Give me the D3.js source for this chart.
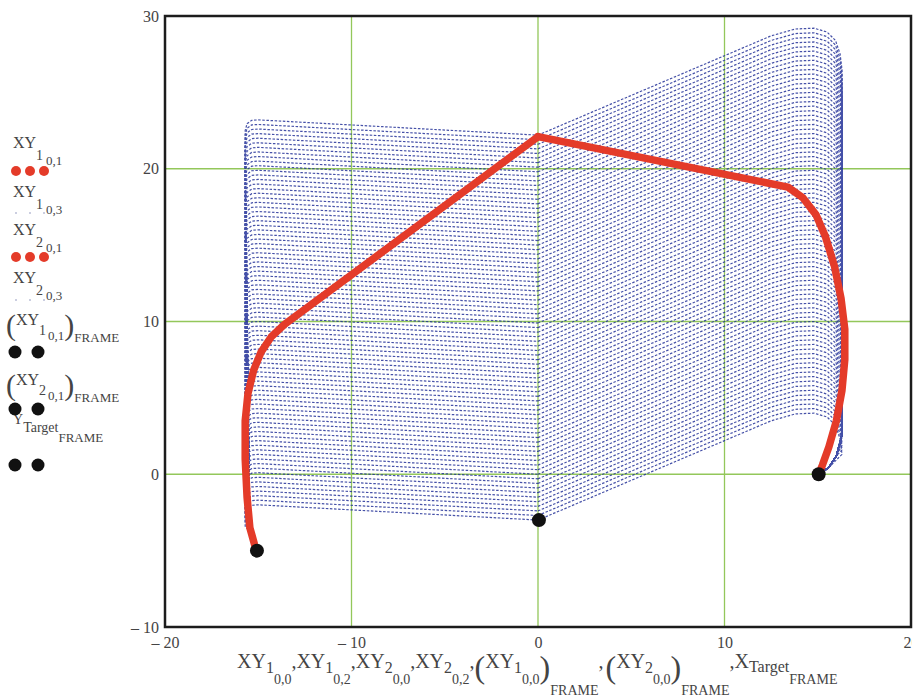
<!DOCTYPE html>
<html>
<head>
<meta charset="utf-8">
<script src="https://cdn.jsdelivr.net/npm/d3@7"></script>
<style>
    html, body { margin: 0; padding: 0; background: #fff; }
    svg { display: block; }
</style>
</head>
<body>
<div id="chart"></div>
<script>
// ==========================================================================
// DADOS
// ==========================================================================

const xTicks = [-20, -10, 0, 10, 20];
const yTicks = [-10, 0, 10, 20, 30];
const gridX = [-10, 0, 10];
const gridY = [0, 10, 20];

// XY1 (primeiro trecho, vermelho)
const xy1X = [-15.07, -15.2, -15.45, -15.6, -15.7, -15.7, -15.55, -15.25, -14.85, -14.3, -13.6, 0];
const xy1Y = [-5.0, -4.6, -3.5, -1.5, 1.0, 3.5, 5.3, 6.8, 8.0, 9.0, 9.8, 22.1];

// XY2 (segundo trecho, vermelho)
const xy2X = [0, 13.4, 14.2, 14.9, 15.4, 15.9, 16.25, 16.45, 16.45, 16.3, 16.0, 15.6, 15.25, 15.05];
const xy2Y = [22.1, 18.8, 18.1, 17.0, 15.6, 13.6, 11.5, 9.5, 7.5, 5.5, 3.5, 1.8, 0.6, 0.0];

// pontos FRAME (preto)
const frameX = [-15.07, 0.05, 15.05];
const frameY = [-5.0, -3.0, 0.0];

// malha azul: altura de cada linha em x = 0
const meshRows = [
    -3.0, -2.7, -2.4, -2.1, -1.8, -1.5, -1.2, -0.9, -0.6, -0.3,
    0.0, 0.3, 0.6, 0.9, 1.2, 1.5, 1.8, 2.1, 2.4, 2.7,
    3.0, 3.3, 3.6, 3.9, 4.2, 4.5, 4.8, 5.1, 5.4, 5.7,
    6.0, 6.3, 6.6, 6.9, 7.2, 7.5, 7.8, 8.1, 8.4, 8.7,
    9.0, 9.3, 9.6, 9.9, 10.2, 10.5, 10.8, 11.1, 11.4, 11.7,
    12.0, 12.3, 12.6, 12.9, 13.2, 13.5, 13.8, 14.1, 14.4, 14.7,
    15.0, 15.3, 15.6, 15.9, 16.2, 16.5, 16.8, 17.1, 17.4, 17.7,
    18.0, 18.3, 18.6, 18.9, 19.2, 19.5, 19.8, 20.1, 20.4, 20.7,
    21.0, 21.3, 21.6, 21.9, 22.2
];

// perfil esquerdo (XY1_{0,2}, XY1_{0,3}): início fixo + pontos relativos à linha
const meshLeftStartX = [-15.15, -15.45];
const meshLeftStartY = [-4.6, -3.8];
const meshLeftX = [-15.7, -15.7, -15.6, -15.35, -15.0, 0];
const meshLeftDy = [-0.4, 0.3, 0.75, 0.97, 1.0, 0];

// perfil direito (XY2_{0,2}, XY2_{0,3}): pontos relativos + final fixo
const meshRightX = [0, 10, 12.5, 13.8, 14.8, 15.5, 15.95, 16.2, 16.3];
const meshRightDy = [0, 5.2, 6.5, 6.95, 7.0, 6.75, 6.2, 5.3, 4.3];
const meshRightEndX = [16.3, 16.0, 15.6, 15.1];
const meshRightEndY = [2.6, 1.2, 0.45, 0.02];

// ==========================================================================
// CONFIGURAÇÕES
// ==========================================================================

const CONFIG = {
    width: 918,
    height: 698,
    plot: { left: 165, right: 911, top: 16, bottom: 627 },
    font: '"Liberation Serif", "Times New Roman", serif',
    colors: {
        grid: '#93c75a',
        mesh: '#1e2c96',
        red: '#e43b29',
        black: '#111',
        frame: '#1c1c1c',
        text: '#444'
    }
};

const svg = d3.select('#chart')
    .append('svg')
    .attr('width', CONFIG.width)
    .attr('height', CONFIG.height)
    .attr('font-family', CONFIG.font);

const x = d3.scaleLinear().domain([-20, 20]).range([CONFIG.plot.left, CONFIG.plot.right]);
const y = d3.scaleLinear().domain([-10, 30]).range([CONFIG.plot.bottom, CONFIG.plot.top]);

const line = d3.line().x(d => x(d[0])).y(d => y(d[1]));

// ==========================================================================
// GRADE
// ==========================================================================

svg.append('g').selectAll('line.gx')
    .data(gridX)
    .enter().append('line')
    .attr('x1', d => x(d)).attr('x2', d => x(d))
    .attr('y1', y(-10)).attr('y2', y(30))
    .attr('stroke', CONFIG.colors.grid)
    .attr('stroke-width', 1.3);

svg.append('g').selectAll('line.gy')
    .data(gridY)
    .enter().append('line')
    .attr('x1', x(-20)).attr('x2', x(20))
    .attr('y1', d => y(d)).attr('y2', d => y(d))
    .attr('stroke', CONFIG.colors.grid)
    .attr('stroke-width', 1.3);

// ==========================================================================
// MALHA AZUL
// ==========================================================================

function leftRow(h) {
    const pts = meshLeftStartX.map((v, i) => [v, meshLeftStartY[i]]);
    const last = meshLeftStartY[meshLeftStartY.length - 1];
    meshLeftX.forEach((v, i) => {
        if (h + meshLeftDy[i] > last) pts.push([v, h + meshLeftDy[i]]);
    });
    return pts;
}

function rightRow(g) {
    const pts = meshRightX.map((v, i) => [v, g + meshRightDy[i]]);
    const last = pts[pts.length - 1][1];
    meshRightEndX.forEach((v, i) => {
        if (meshRightEndY[i] < last - 0.1) pts.push([v, meshRightEndY[i]]);
    });
    return pts;
}

const mesh = svg.append('g')
    .attr('fill', 'none')
    .attr('stroke', CONFIG.colors.mesh)
    .attr('stroke-width', 1.2)
    .attr('stroke-dasharray', '2.5,1.6')
    .attr('opacity', 0.82);

mesh.selectAll('path.left')
    .data(meshRows)
    .enter().append('path')
    .attr('d', d => line(leftRow(d)));

mesh.selectAll('path.right')
    .data(meshRows)
    .enter().append('path')
    .attr('d', d => line(rightRow(d)));

// ==========================================================================
// TRAJETÓRIAS VERMELHAS E PONTOS
// ==========================================================================

[[xy1X, xy1Y], [xy2X, xy2Y]].forEach(([xs, ys]) => {
    svg.append('path')
        .attr('d', line(xs.map((v, i) => [v, ys[i]])))
        .attr('fill', 'none')
        .attr('stroke', CONFIG.colors.red)
        .attr('stroke-width', 7.5)
        .attr('stroke-linecap', 'round')
        .attr('stroke-linejoin', 'round');
});

svg.append('g').selectAll('circle')
    .data(frameX)
    .enter().append('circle')
    .attr('cx', d => x(d))
    .attr('cy', (d, i) => y(frameY[i]))
    .attr('r', 7)
    .attr('fill', CONFIG.colors.black);

// moldura
svg.append('rect')
    .attr('x', CONFIG.plot.left).attr('y', CONFIG.plot.top)
    .attr('width', CONFIG.plot.right - CONFIG.plot.left)
    .attr('height', CONFIG.plot.bottom - CONFIG.plot.top)
    .attr('fill', 'none')
    .attr('stroke', CONFIG.colors.frame)
    .attr('stroke-width', 2.5);

// ==========================================================================
// EIXOS
// ==========================================================================

const fmt = d => d < 0 ? '\u2013 ' + Math.abs(d) : String(d);

svg.append('clipPath').attr('id', 'xclip')
    .append('rect').attr('x', 0).attr('y', 0).attr('width', 912).attr('height', CONFIG.height);

const xAxis = svg.append('g')
    .attr('clip-path', 'url(#xclip)')
    .attr('transform', `translate(0,${CONFIG.plot.bottom})`)
    .call(d3.axisBottom(x).tickValues(xTicks).tickFormat(fmt).tickSize(0).tickPadding(10));

const yAxis = svg.append('g')
    .attr('transform', `translate(${CONFIG.plot.left},0)`)
    .call(d3.axisLeft(y).tickValues(yTicks).tickFormat(fmt).tickSize(0).tickPadding(6));

[xAxis, yAxis].forEach(a => {
    a.attr('font-family', CONFIG.font);
    a.select('.domain').remove();
    a.selectAll('text')
        .style('font-family', CONFIG.font)
        .style('font-size', '16px')
        .attr('fill', CONFIG.colors.text);
});

// ==========================================================================
// TEXTOS MATEMÁTICOS (legenda e título do eixo)
// ==========================================================================

function drawMath(x0, baseY, parts) {
    const t = svg.append('text')
        .attr('x', x0)
        .attr('y', baseY)
        .style('font-family', CONFIG.font)
        .attr('fill', CONFIG.colors.text);
    parts.forEach(p => {
        t.append('tspan')
            .attr('y', baseY + p[1])
            .attr('dx', p[3] || 0)
            .style('font-size', p[2] + 'px')
            .text(p[0]);
    });
    return t;
}

// título do eixo x
const M = 20, S1 = 16, S2 = 14, F = 14, P = 32;
drawMath(237, 668, [
    ['XY', 0, M], ['1', 5, S1], ['0,0', 16, S2], [',', 0, M],
    ['XY', 0, M], ['1', 5, S1], ['0,2', 16, S2], [',', 0, M],
    ['XY', 0, M], ['2', 5, S1], ['0,0', 16, S2], [',', 0, M],
    ['XY', 0, M], ['2', 5, S1], ['0,2', 16, S2], [',', 0, M],
    ['(', 10, P], ['XY', 0, M], ['1', 5, S1], ['0,0', 16, S2], [')', 10, P], ['FRAME', 27, F], [',', 0, M],
    ['(', 10, P, 2], ['XY', 0, M], ['2', 5, S1], ['0,0', 16, S2], [')', 10, P], ['FRAME', 27, F], [',', 0, M],
    ['X', 0, M], ['Target', 4, S1], ['FRAME', 16, F]
]);

// legenda
const L = 16, L1 = 14, L2 = 13;
drawMath(13, 148, [['XY', 0, L], ['1', 12, L1], ['0,1', 17, L2, 3]]);
drawMath(13, 197, [['XY', 0, L], ['1', 12, L1], ['0,3', 17, L2, 3]]);
drawMath(13, 235, [['XY', 0, L], ['2', 12, L1], ['0,1', 17, L2, 3]]);
drawMath(13, 283, [['XY', 0, L], ['2', 12, L1], ['0,3', 17, L2, 3]]);
drawMath(6, 325, [['(', 10, 30], ['XY', 0, L], ['1', 10, L1], ['0,1', 15, L2, 2], [')', 10, 30], ['FRAME', 17, L2]]);
drawMath(6, 385, [['(', 10, 30], ['XY', 0, L], ['2', 10, L1], ['0,1', 15, L2, 2], [')', 10, 30], ['FRAME', 17, L2]]);
drawMath(13, 424, [['Y', 0, 14], ['Target', 8, L1], ['FRAME', 18, L2]]);

const legendMarks = [
    { y: 171, type: 'red' },
    { y: 213, type: 'dot' },
    { y: 257, type: 'red' },
    { y: 300, type: 'dot' },
    { y: 352, type: 'black' },
    { y: 409, type: 'black' },
    { y: 465, type: 'black' }
];

legendMarks.forEach(m => {
    const xs = m.type === 'black' ? [15, 38] : [16, 30, 44];
    svg.append('g').selectAll('circle')
        .data(xs)
        .enter().append('circle')
        .attr('cx', d => d)
        .attr('cy', m.y)
        .attr('r', m.type === 'black' ? 6.5 : (m.type === 'red' ? 5 : 0.8))
        .attr('fill', m.type === 'black' ? CONFIG.colors.black : (m.type === 'red' ? CONFIG.colors.red : '#8890b8'));
});
</script>
</body>
</html>
